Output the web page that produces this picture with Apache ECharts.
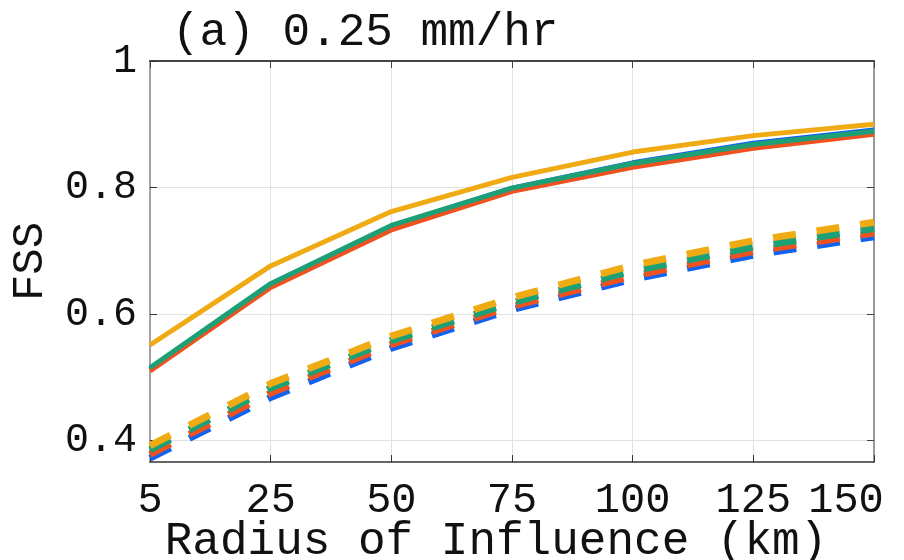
<!DOCTYPE html>
<html>
<head>
<meta charset="utf-8">
<title>FSS 0.25 mm/hr</title>
<script src="https://cdn.jsdelivr.net/npm/echarts@6/dist/echarts.min.js"></script>
<style>
  html, body { margin: 0; padding: 0; background: #fff; }
  #chart { width: 904px; height: 560px; }
</style>
</head>
<body>
<div id="chart"></div>
<script>
  // radius of influence (km), plotted as evenly spaced categories
  var radius = ['5', '25', '50', '75', '100', '125', '150']
  var yTicks = [0.4, 0.6, 0.8, 1]

  // solid lines
  var solidBlue   = [0.513, 0.647, 0.739, 0.799, 0.839, 0.870, 0.891]
  var solidRed    = [0.510, 0.642, 0.733, 0.794, 0.832, 0.862, 0.884]
  var solidGreen  = [0.515, 0.648, 0.740, 0.799, 0.838, 0.868, 0.889]
  var solidYellow = [0.551, 0.676, 0.762, 0.816, 0.856, 0.882, 0.900]
  // dashed lines
  var dashBlue   = [0.372, 0.468, 0.546, 0.607, 0.655, 0.693, 0.722]
  var dashRed    = [0.378, 0.475, 0.552, 0.612, 0.660, 0.699, 0.728]
  var dashGreen  = [0.385, 0.483, 0.558, 0.618, 0.668, 0.706, 0.735]
  var dashYellow = [0.392, 0.490, 0.565, 0.626, 0.677, 0.716, 0.745]

  var BLUE = '#1262f0', RED = '#f0521f', GREEN = '#1ea077', YELLOW = '#f0aa14'
  var FONT = '"Liberation Mono", "DejaVu Sans Mono", monospace'

  function line(name, data, color, dashed) {
    return {
      name: name,
      type: 'line',
      data: data,
      symbol: 'none',
      lineStyle: dashed
        ? { color: color, width: 7, type: [23, 21], cap: 'butt' }
        : { color: color, width: 5 },
      itemStyle: { color: color }
    }
  }

  var charts = echarts.init(document.getElementById('chart'))
  var option = {
    animation: false,
    backgroundColor: '#fff',
    title: {
      text: '(a) 0.25 mm/hr',
      left: 167,
      top: 5,
      textStyle: { fontFamily: FONT, fontSize: 46, fontWeight: 'normal', color: '#111' }
    },
    grid: { left: 150, right: 30, top: 61, bottom: 98, containLabel: false, outerBoundsMode: 'none' },
    xAxis: [
      {
        type: 'category',
        data: radius,
        boundaryGap: false,
        name: 'Radius of Influence (km)',
        nameLocation: 'middle',
        nameGap: 57,
        nameMoveOverlap: false,
        nameTextStyle: { fontFamily: FONT, fontSize: 46, color: '#111', padding: [0, 32, 0, 0] },
        axisLine: { lineStyle: { color: '#333', width: 1.5 } },
        axisTick: { inside: true, length: 7, lineStyle: { color: '#333' } },
        axisLabel: {
          fontFamily: FONT, fontSize: 42, color: '#111', margin: 18, interval: 0,
          hideOverlap: false,
          formatter: function (v) { return v === '150' ? '{e|' + v + '}' : v },
          rich: { e: { fontFamily: FONT, fontSize: 42, color: '#111', padding: [0, 56, 0, 0] } }
        },
        splitLine: { show: true, lineStyle: { color: '#e2e2e2', width: 1 } }
      },
      {
        type: 'category',
        data: radius,
        boundaryGap: false,
        position: 'top',
        axisLine: { lineStyle: { color: '#444', width: 2 } },
        axisTick: { inside: true, length: 7, lineStyle: { color: '#444' } },
        axisLabel: { show: false },
        splitLine: { show: false }
      }
    ],
    yAxis: [
      {
        type: 'value',
        min: 0.366,
        max: 1,
        name: 'FSS',
        nameLocation: 'middle',
        nameGap: 98,
        nameMoveOverlap: false,
        nameTextStyle: { fontFamily: FONT, fontSize: 44, color: '#111' },
        axisLine: { show: true, lineStyle: { color: '#888', width: 1.5 } },
        axisTick: { show: true, inside: true, length: 7, customValues: yTicks, lineStyle: { color: '#333' } },
        axisLabel: {
          fontFamily: FONT, fontSize: 40, color: '#111', margin: 13,
          customValues: yTicks,
          formatter: function (v) { return v === 1 ? '1' : v.toFixed(1) }
        },
        splitLine: { show: true, lineStyle: { color: '#e2e2e2', width: 1 } }
      },
      {
        type: 'value',
        min: 0.366,
        max: 1,
        position: 'right',
        axisLine: { show: true, lineStyle: { color: '#999', width: 2 } },
        axisTick: { show: true, inside: true, length: 7, customValues: yTicks, lineStyle: { color: '#444' } },
        axisLabel: { show: false },
        splitLine: { show: false }
      }
    ],
    series: [
      line('dash blue', dashBlue, BLUE, true),
      line('dash red', dashRed, RED, true),
      line('dash green', dashGreen, GREEN, true),
      line('dash yellow', dashYellow, YELLOW, true),
      line('solid blue', solidBlue, BLUE, false),
      line('solid red', solidRed, RED, false),
      line('solid green', solidGreen, GREEN, false),
      line('solid yellow', solidYellow, YELLOW, false)
    ]
  }
  charts.setOption(option)
  window.addEventListener('resize', function () {
    charts.resize()
  })
</script>
</body>
</html>
